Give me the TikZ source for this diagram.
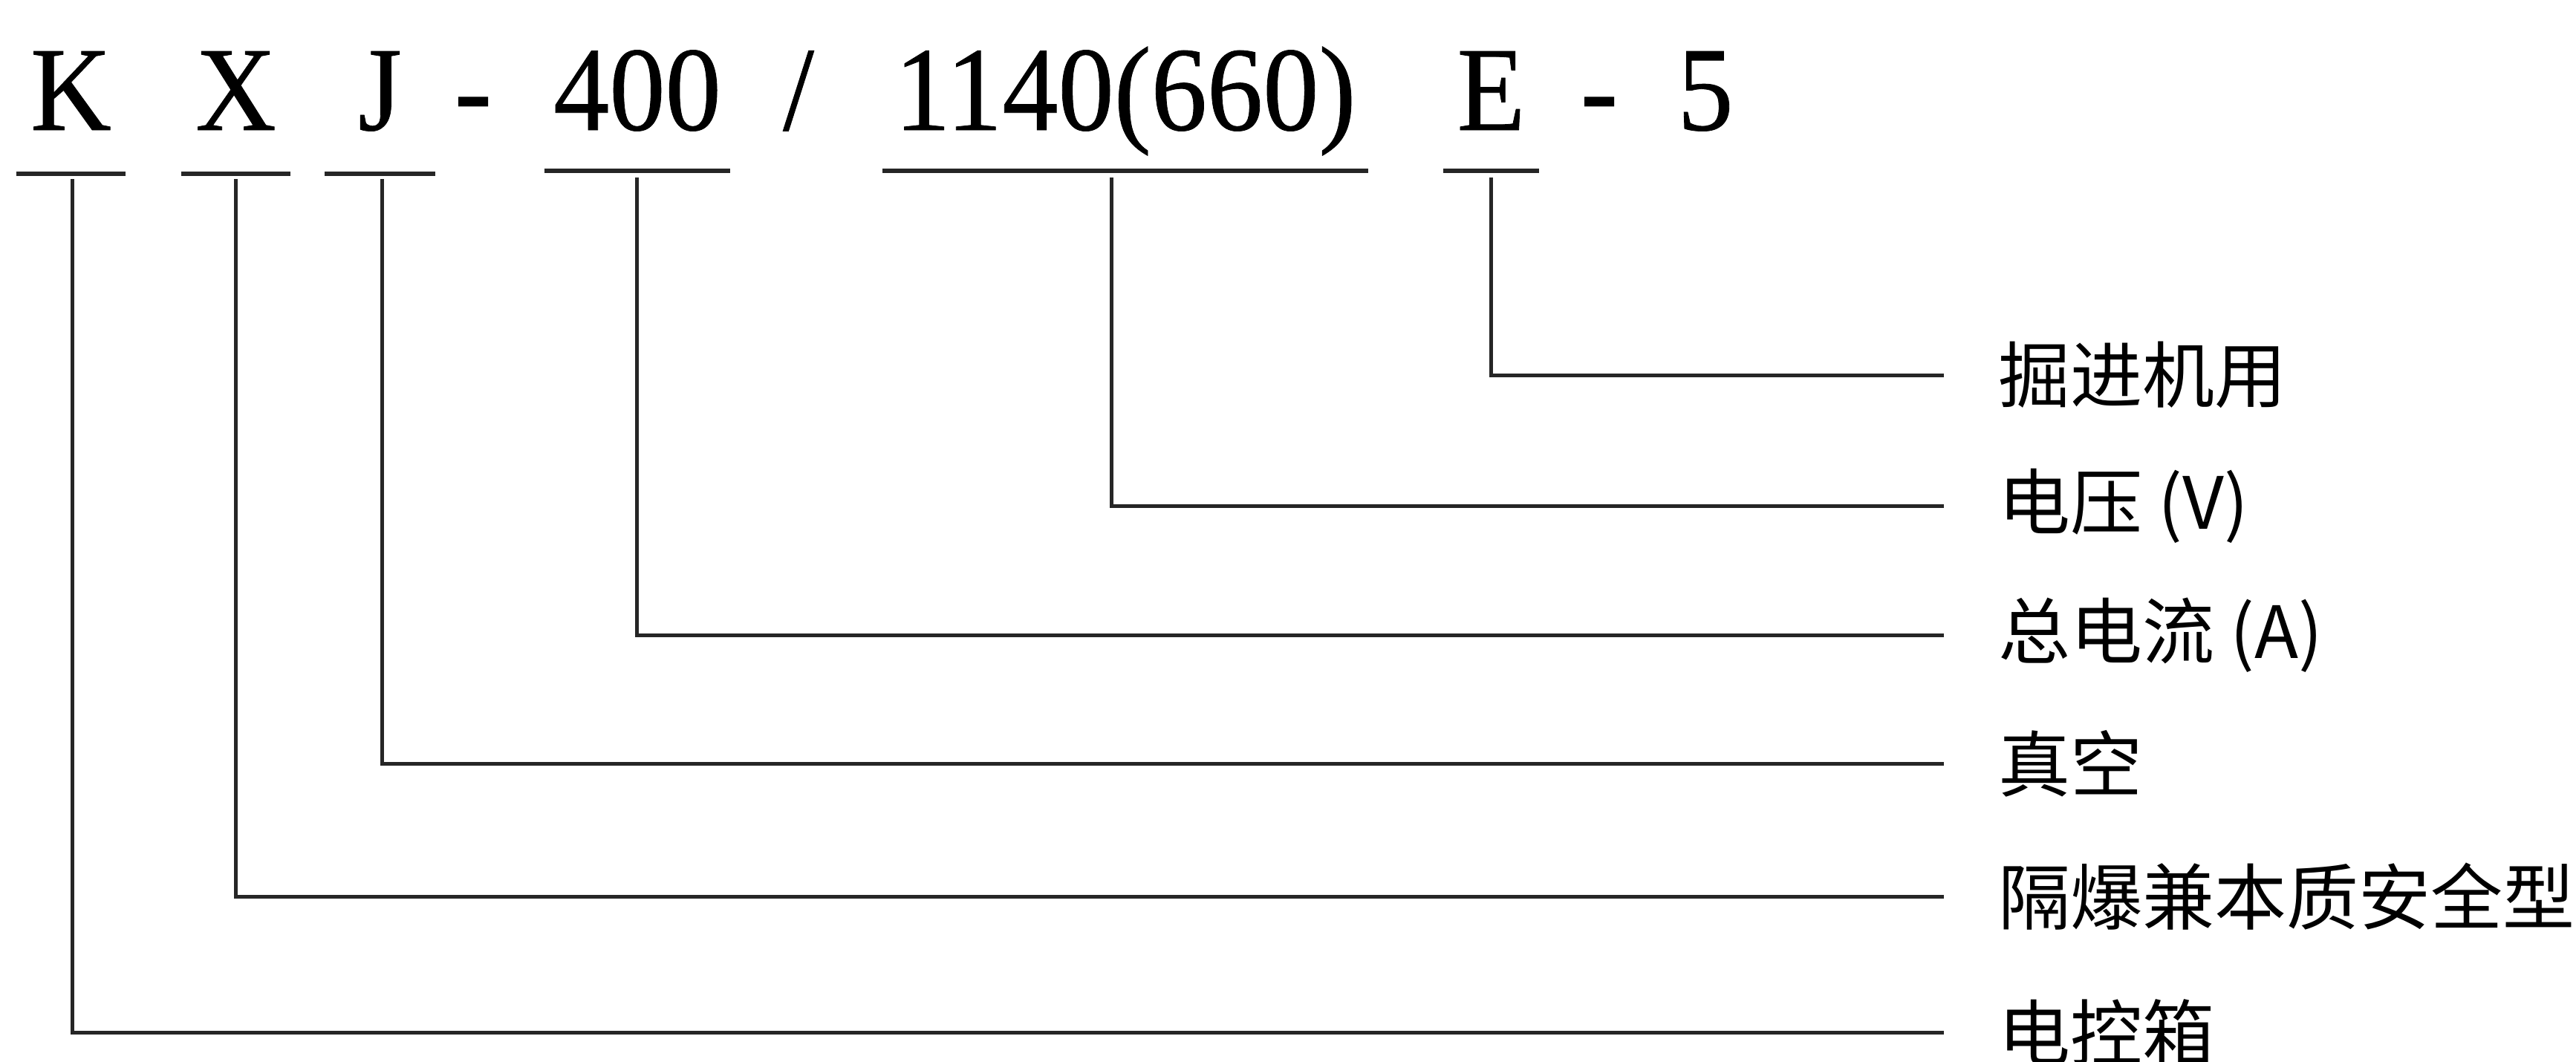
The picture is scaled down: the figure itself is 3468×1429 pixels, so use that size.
\documentclass[tikz,border=0pt]{standalone}
\usepackage{fontspec}
\setmainfont{Liberation Serif}[FakeStretch=0.93,FakeBold=0.5]
\newfontfamily\cjk{Noto Sans CJK SC}
\tikzset{
	code/.style={anchor=base,inner sep=0pt,font=\fontsize{46}{50}\selectfont},
	uline/.style={line width=0.06cm,black!85},
	lead/.style={line width=0.05cm,black!85},
	item/.style={anchor=west,inner sep=0pt,outer xsep=0.73cm,font=\cjk\fontsize{27.6}{30}\selectfont}
}
\begin{document}
\begin{tikzpicture} [x=0.01cm,y=-0.01cm]
		\useasboundingbox (0,0) rectangle (3468,1429);
		\node [code,minimum width=1.45cm] (k) at (95.5,175) {K};
		\node [code,minimum width=1.45cm] (x) at (317.5,175) {X};
		\node [code,minimum width=1.47cm] (j) at (511.5,175) {J};
		\node [code] (d1) at (637,175) {-};
		\node [code,minimum width=2.49cm] (cur) at (858,175) {400};
		\node [code] (sl) at (1075,175) {/};
		\node [code,minimum width=6.52cm] (volt) at (1515,175) {1140(660)};
		\node [code,minimum width=1.27cm] (e) at (2007.5,175) {E};
		\node [code] (d2) at (2153,175) {-};
		\node [code] (five) at (2296,175) {5};
		\draw [uline] ([yshift=-0.59cm]k.base west) -- ([yshift=-0.59cm]k.base east);
		\draw [uline] ([yshift=-0.59cm]x.base west) -- ([yshift=-0.59cm]x.base east);
		\draw [uline] ([yshift=-0.59cm]j.base west) -- ([yshift=-0.59cm]j.base east);
		\draw [uline] ([yshift=-0.55cm]cur.base west) -- ([yshift=-0.55cm]cur.base east);
		\draw [uline] ([yshift=-0.55cm]volt.base west) -- ([yshift=-0.55cm]volt.base east);
		\draw [uline] ([yshift=-0.55cm]e.base west) -- ([yshift=-0.55cm]e.base east);
		\node [item] (le) at (2617,505) {掘进机用};
		\node [item] (lvolt) at (2617,681) {电压 (V)};
		\node [item] (lcur) at (2617,855) {总电流 (A)};
		\node [item] (lj) at (2617,1028) {真空};
		\node [item] (lx) at (2617,1207) {隔爆兼本质安全型};
		\node [item] (lk) at (2617,1390) {电控箱};
		\draw [lead] ([yshift=-0.64cm]e.base) |- (le.west);
		\draw [lead] ([xshift=-0.19cm,yshift=-0.64cm]volt.base) |- (lvolt.west);
		\draw [lead] ([xshift=-0.01cm,yshift=-0.64cm]cur.base) |- (lcur.west);
		\draw [lead] ([xshift=0.03cm,yshift=-0.66cm]j.base) |- (lj.west);
		\draw [lead] ([yshift=-0.66cm]x.base) |- (lx.west);
		\draw [lead] ([xshift=0.02cm,yshift=-0.66cm]k.base) |- (lk.west);
	\end{tikzpicture}
\end{document}
